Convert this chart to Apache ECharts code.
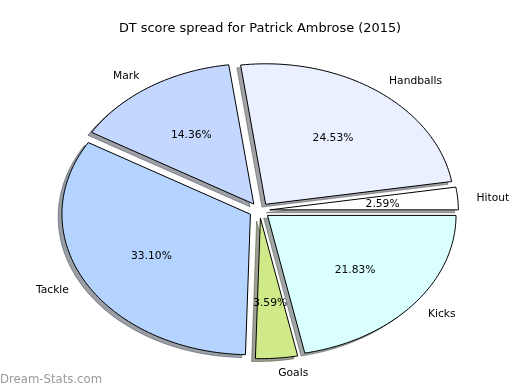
<!DOCTYPE html>
<html>
<head>
<meta charset="utf-8">
<script src="https://cdn.jsdelivr.net/npm/echarts@6/dist/echarts.min.js"></script>
<style>
html,body{margin:0;padding:0;background:#fff;}
#chart{width:520px;height:390px;}
</style>
</head>
<body>
<div id="chart"></div>
<script>
// ---- data ----
const categories = ['Hitout', 'Handballs', 'Mark', 'Tackle', 'Goals', 'Kicks'];
const values = [2.59, 24.53, 14.36, 33.10, 3.59, 21.83];
const titleText = 'DT score spread for Patrick Ambrose (2015)';
const watermark = 'Dream-Stats.com';

// ---- styles ----
const colors = ['#ffffff', '#eaf0ff', '#c4d8ff', '#b4d4ff', '#d0ea8a', '#d9ffff'];
const FONT = 'DejaVu Sans';

// ---- layout ----
const CX = 259.5, CY = 210.5, RX = 188.5, RY = 140.5;
const EXPLODE = 0.055, SHADOW = 0.02, TEXT_DY = 1.2;

const total = values.reduce((a, b) => a + b, 0);

function shadowColor(hex) {
  const r = parseInt(hex.slice(1, 3), 16), g = parseInt(hex.slice(3, 5), 16), b = parseInt(hex.slice(5, 7), 16);
  return 'rgba(' + Math.round(r * 0.3) + ',' + Math.round(g * 0.3) + ',' + Math.round(b * 0.3) + ',0.5)';
}

function renderItem(params, api) {
  const i = params.dataIndex;
  const v = api.value(0);
  let before = 0;
  for (let k = 0; k < i; k++) before += values[k];
  const a1 = before / total * 360;
  const a2 = (before + v) / total * 360;
  const mid = (a1 + a2) / 2 * Math.PI / 180;
  const ox = CX + EXPLODE * RX * Math.cos(mid);
  const oy = CY - EXPLODE * RY * Math.sin(mid);
  const n = Math.max(4, Math.ceil((a2 - a1) / 1.5));
  const pts = [[ox, oy]];
  for (let s = 0; s <= n; s++) {
    const t = (a1 + (a2 - a1) * s / n) * Math.PI / 180;
    pts.push([ox + RX * Math.cos(t), oy - RY * Math.sin(t)]);
  }
  const sdx = -SHADOW * RX, sdy = SHADOW * RY;
  const spts = pts.map(p => [p[0] + sdx, p[1] + sdy]);
  const cosm = Math.cos(mid), sinm = Math.sin(mid);
  const lx = ox + 1.1 * RX * cosm, ly = oy - 1.1 * RY * sinm + TEXT_DY;
  const px = ox + 0.6 * RX * cosm, py = oy - 0.6 * RY * sinm + TEXT_DY;
  return {
    type: 'group',
    children: [
      { type: 'polygon', z2: 0, shape: { points: spts },
        style: { fill: shadowColor(colors[i]), stroke: shadowColor(colors[i]), lineWidth: 1 } },
      { type: 'polygon', z2: 10, shape: { points: pts },
        style: { fill: colors[i], stroke: '#000', lineWidth: 1 } },
      { type: 'text', z2: 20, style: { text: categories[i], x: lx, y: ly,
        align: cosm > 0 ? 'left' : 'right', verticalAlign: 'middle',
        fill: '#000', fontSize: 10.7, fontFamily: FONT } },
      { type: 'text', z2: 20, style: { text: (v / total * 100).toFixed(2) + '%', x: px, y: py,
        align: 'center', verticalAlign: 'middle',
        fill: '#000', fontSize: 10.7, fontFamily: FONT } }
    ]
  };
}

const chart = echarts.init(document.getElementById('chart'), null, { renderer: 'canvas' });
chart.setOption({
  animation: false,
  backgroundColor: '#fff',
  title: {
    text: titleText, left: 'center', top: 17,
    textStyle: { fontFamily: FONT, fontSize: 12.9, fontWeight: 'normal', color: '#000' }
  },
  graphic: [{
    type: 'text', left: 0, top: 374,
    style: { text: watermark, fill: '#9a9a9a', fontSize: 11.7, fontFamily: FONT }
  }],
  series: [{
    type: 'custom',
    coordinateSystem: 'none',
    renderItem: renderItem,
    data: values.map((v, i) => ({ name: categories[i], value: [v] }))
  }]
});
</script>
</body>
</html>
